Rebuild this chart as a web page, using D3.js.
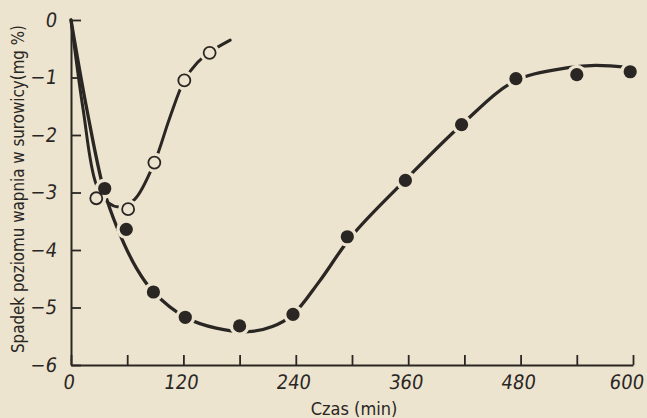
<!DOCTYPE html>
<html>
<head>
<meta charset="utf-8">
<script src="https://cdn.jsdelivr.net/npm/d3@7"></script>
<style>
  html, body { margin: 0; padding: 0; background: #ece4cf; }
  svg { display: block; }
</style>
</head>
<body>
<svg id="chart" width="647" height="418"></svg>
<script>
// Measured points: serum calcium drop (mg %) against time (min)
const openTimes   = [27, 61, 89, 121, 148];
const openValues  = [-3.10, -3.29, -2.48, -1.05, -0.57];

const filledTimes  = [36, 59, 88, 122, 180, 237, 295, 357, 417, 475, 540, 597];
const filledValues = [-2.93, -3.64, -4.73, -5.17, -5.32, -5.12, -3.77, -2.79, -1.82, -1.02, -0.95, -0.90];

// Hand-drawn trend curves through each series
const openCurveTimes  = [0, 13, 27, 40, 52, 68, 89, 105, 121, 135, 148, 170];
const openCurveValues = [0, -1.56, -2.86, -3.18, -3.25, -3.12, -2.48, -1.72, -1.05, -0.74, -0.56, -0.35];

const filledCurveTimes  = [0, 17, 35, 50, 70, 88, 122, 155, 189, 215, 237, 265, 300, 357, 417, 475, 531, 560, 597];
const filledCurveValues = [0, -1.56, -2.95, -3.64, -4.32, -4.73, -5.17, -5.36, -5.42, -5.33, -5.12, -4.55, -3.75, -2.78, -1.82, -1.05, -0.83, -0.79, -0.83];

const xTicks = [0, 60, 120, 180, 240, 300, 360, 420, 480, 540, 600];
const xLabelled = [0, 120, 240, 360, 480, 600];
const yTicks = [0, -1, -2, -3, -4, -5, -6];

const xTitle = "Czas (min)";
const yTitle = "Spadek poziomu wapnia w surowicy(mg %)";

const paper = "#ece4cf";
const ink = "#2a2623";

const svg = d3.select("#chart");
svg.append("rect").attr("width", 647).attr("height", 418).attr("fill", paper);

const x = d3.scaleLinear().domain([0, 600]).range([71, 633]);
const y = d3.scaleLinear().domain([-6, 0]).range([365, 20]);

const tickFont = "'Liberation Sans Narrow', 'DejaVu Sans Condensed', sans-serif";
const titleFont = "'DejaVu Sans Condensed', 'Liberation Sans Narrow', sans-serif";

// Axes with inward ticks
const xAxis = d3.axisBottom(x)
  .tickValues(xTicks)
  .tickSizeInner(-10).tickSizeOuter(0).tickPadding(10)
  .tickFormat(d => xLabelled.includes(d) ? String(d) : "");
const yAxis = d3.axisLeft(y)
  .tickValues(yTicks)
  .tickSizeInner(-10).tickSizeOuter(0).tickPadding(14)
  .tickFormat(d => d === 0 ? "0" : "\u2212" + Math.abs(d));

function styleAxis(g) {
  g.select(".domain").attr("stroke", ink).attr("stroke-width", 2);
  g.selectAll(".tick line").attr("stroke", ink).attr("stroke-width", 1.8);
  g.selectAll(".tick text")
    .attr("fill", ink)
    .style("font-family", tickFont)
    .style("font-size", "20px")
    .attr("transform", "skewX(-8)");
}

const gx = svg.append("g").attr("transform", `translate(0,${y(-6)})`).call(xAxis).call(styleAxis);
svg.append("g").attr("transform", `translate(${x(0)},0)`).call(yAxis).call(styleAxis);

// keep the last label inside the right edge
gx.selectAll(".tick text").filter(d => d === 600).attr("text-anchor", "end").attr("dx", 13);

// Axis titles
svg.append("text")
  .attr("x", 354).attr("y", 415)
  .attr("text-anchor", "middle")
  .attr("fill", ink)
  .style("font-family", titleFont)
  .style("font-size", "18px")
  .text(xTitle);

svg.append("text")
  .attr("transform", "translate(24,189) rotate(-90)")
  .attr("text-anchor", "middle")
  .attr("fill", ink)
  .attr("textLength", 328)
  .attr("lengthAdjust", "spacingAndGlyphs")
  .style("font-family", titleFont)
  .style("font-size", "17.5px")
  .text(yTitle);

// Curves
const line = d3.line()
  .x(d => x(d[0])).y(d => y(d[1]))
  .curve(d3.curveCatmullRom.alpha(0.5));

const openCurve = d3.zip(openCurveTimes, openCurveValues);
const filledCurve = d3.zip(filledCurveTimes, filledCurveValues);

svg.append("path").datum(openCurve)
  .attr("d", line).attr("fill", "none")
  .attr("stroke", ink).attr("stroke-width", 3).attr("stroke-linecap", "round");
svg.append("path").datum(filledCurve)
  .attr("d", line).attr("fill", "none")
  .attr("stroke", ink).attr("stroke-width", 3.3).attr("stroke-linecap", "round");

const openPts = d3.zip(openTimes, openValues);
const filledPts = d3.zip(filledTimes, filledValues);

// Paper-coloured halos break the curves around each marker
svg.append("g").selectAll("circle").data(openPts.concat(filledPts)).join("circle")
  .attr("cx", d => x(d[0])).attr("cy", d => y(d[1]))
  .attr("r", 10).attr("fill", paper);

// Markers
svg.append("g").selectAll("circle").data(openPts).join("circle")
  .attr("cx", d => x(d[0])).attr("cy", d => y(d[1]))
  .attr("r", 6).attr("fill", paper)
  .attr("stroke", ink).attr("stroke-width", 1.8);

svg.append("g").selectAll("circle").data(filledPts).join("circle")
  .attr("cx", d => x(d[0])).attr("cy", d => y(d[1]))
  .attr("r", 6.6).attr("fill", ink);
</script>
</body>
</html>
